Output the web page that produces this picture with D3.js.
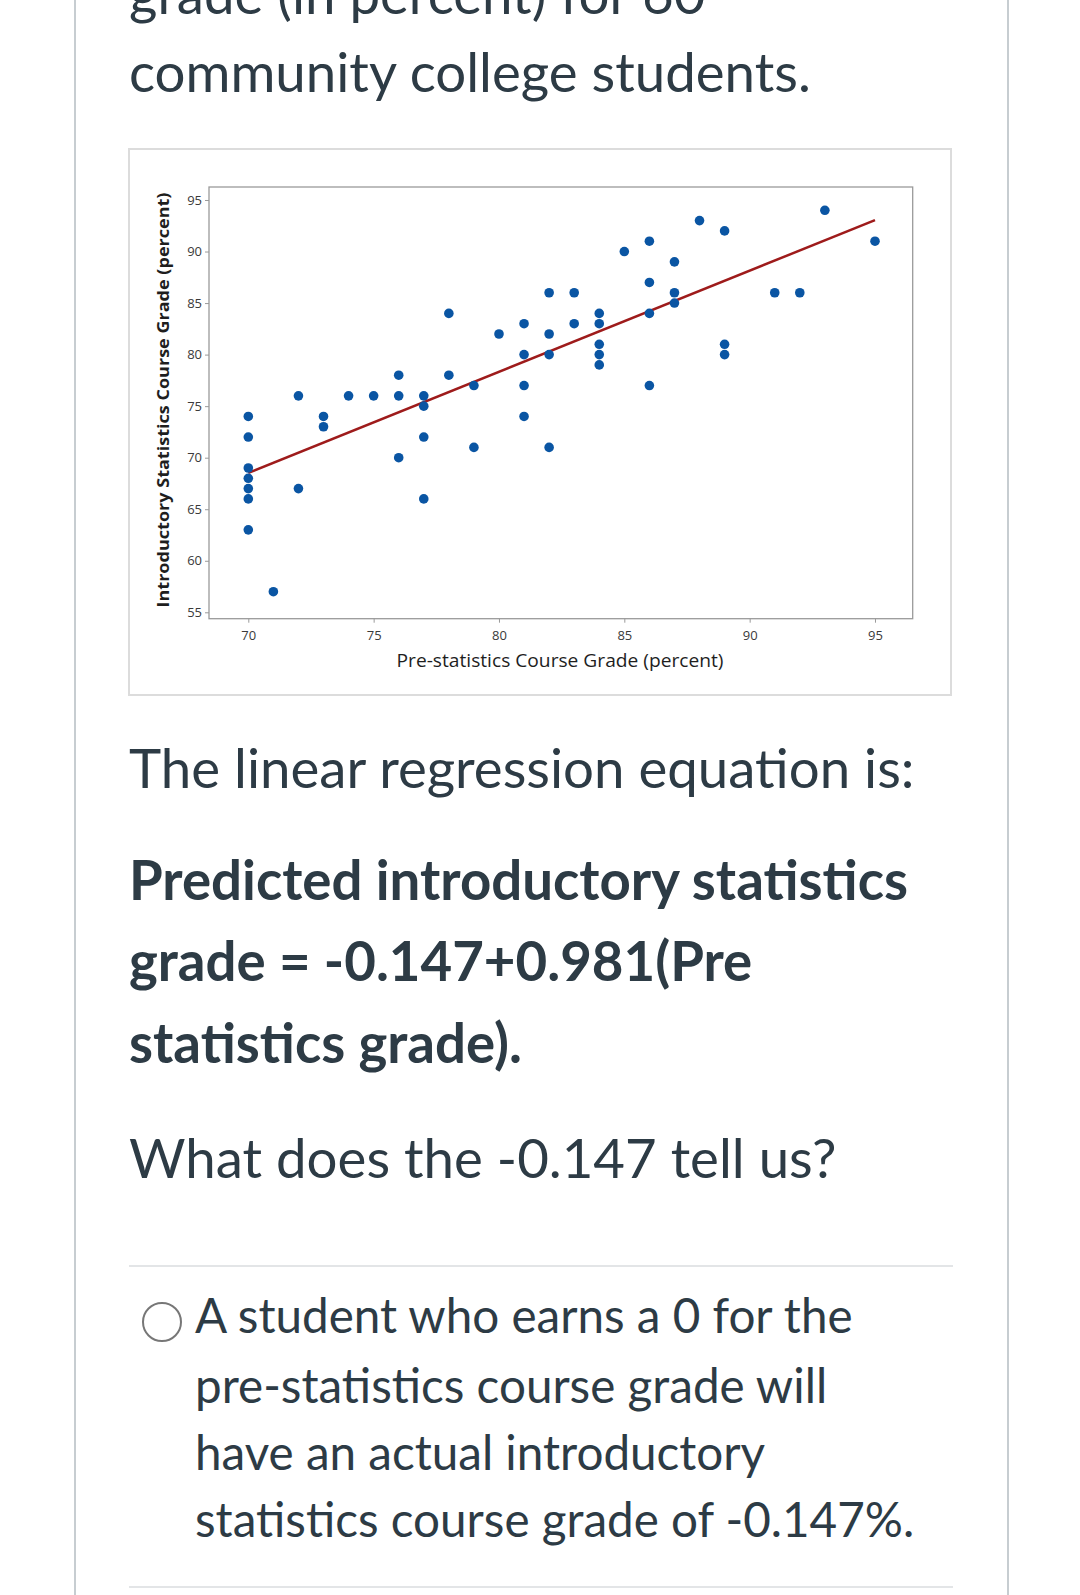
<!DOCTYPE html>
<html>
<head>
<meta charset="utf-8">
<script src="https://cdn.jsdelivr.net/npm/d3@7"></script>
<style>
  html, body { margin: 0; padding: 0; background: #ffffff; }
  svg { display: block; }
</style>
</head>
<body>
<div id="chart"></div>
<script>
// ---------------- DATA ----------------
const preStatsGrade = [70,70,70,70,70,70,70,71,72,72,73,73,74,75,76,76,76,77,77,77,77,78,78,79,79,80,81,81,81,81,82,82,82,82,83,83,84,84,84,84,84,85,86,86,86,86,87,87,87,88,89,89,89,91,92,93,95];
const introStatsGrade = [74,72,69,68,67,66,63,57,76,67,74,73,76,76,78,76,70,76,75,72,66,84,78,77,71,82,83,80,77,74,86,82,80,71,86,83,84,83,81,80,79,90,91,87,84,77,89,86,85,93,92,81,80,86,86,94,91];
const xTickValues = [70, 75, 80, 85, 90, 95];
const yTickValues = [55, 60, 65, 70, 75, 80, 85, 90, 95];
const fitIntercept = -0.147;
const fitSlope = 0.981;
const fitXRange = [70, 95];
const xAxisTitle = "Pre-statistics Course Grade (percent)";
const yAxisTitle = "Introductory Statistics Course Grade (percent)";

const introLines = ["grade (in percent) for 60", "community college students."];
const equationIntro = "The linear regression equation is:";
const equationLines = ["Predicted introductory statistics", "grade = -0.147+0.981(Pre", "statistics grade)."];
const questionText = "What does the -0.147 tell us?";
const optionLines = ["A student who earns a 0 for the", "pre-statistics course grade will", "have an actual introductory", "statistics course grade of -0.147%."];

// ---------------- LAYOUT ----------------
const W = 1080, H = 1595;
const textColor = "#2d3b45";
const svg = d3.select("#chart").append("svg").attr("width", W).attr("height", H);

svg.append("rect").attr("width", W).attr("height", H).attr("fill", "#fff");

// page side borders
svg.append("line").attr("x1", 75).attr("x2", 75).attr("y1", 0).attr("y2", H)
  .attr("stroke", "#c7cdd1").attr("stroke-width", 2);
svg.append("line").attr("x1", 1008).attr("x2", 1008).attr("y1", 0).attr("y2", H)
  .attr("stroke", "#c7cdd1").attr("stroke-width", 2);

// intro text (first line is scrolled partly out of view, as in the reference)
const bodyFont = "Lato, 'Open Sans', sans-serif";
const bodySize = 54.6;
const introY = [14, 92];
introLines.forEach((t, i) => {
  svg.append("text").attr("x", 129).attr("y", introY[i]).text(t)
    .attr("font-family", bodyFont).attr("font-size", bodySize).attr("fill", textColor);
});

// chart image box
svg.append("rect").attr("x", 129).attr("y", 149).attr("width", 822).attr("height", 546)
  .attr("fill", "#fff").attr("stroke", "#dcdcdc").attr("stroke-width", 2);

const plot = { left: 209, top: 187, right: 912.7, bottom: 618.7 };
const x = d3.scaleLinear().domain([68.432, 96.504]).range([plot.left, plot.right]);
const y = d3.scaleLinear().domain([54.38, 96.26]).range([plot.bottom, plot.top]);

// frame
svg.append("rect").attr("x", plot.left).attr("y", plot.top)
  .attr("width", plot.right - plot.left).attr("height", plot.bottom - plot.top)
  .attr("fill", "#fff").attr("stroke", "#9a9a9a").attr("stroke-width", 1.3);

const axisFont = "'Open Sans', 'Noto Sans', sans-serif";
const gx = svg.append("g").attr("transform", `translate(0,${plot.bottom})`)
  .call(d3.axisBottom(x).tickValues(xTickValues).tickSize(4).tickSizeOuter(0).tickPadding(8));
const gy = svg.append("g").attr("transform", `translate(${plot.left},0)`)
  .call(d3.axisLeft(y).tickValues(yTickValues).tickSize(4).tickSizeOuter(0).tickPadding(3));
[gx, gy].forEach(g => {
  g.select(".domain").remove();
  g.selectAll(".tick line").attr("stroke", "#9a9a9a");
  g.selectAll(".tick text").attr("font-family", axisFont).attr("font-size", 13).attr("fill", "#3a3a3a");
});

// axis titles
svg.append("text").attr("x", 560).attr("y", 667).attr("text-anchor", "middle")
  .attr("font-family", axisFont).attr("font-size", 17.5).attr("fill", "#1e1e1e")
  .attr("textLength", 327).attr("lengthAdjust", "spacingAndGlyphs")
  .text(xAxisTitle);
svg.append("text").attr("transform", "translate(169,400) rotate(-90)").attr("text-anchor", "middle")
  .attr("font-family", axisFont).attr("font-weight", 700).attr("font-size", 16.5).attr("fill", "#1e1e1e")
  .attr("textLength", 415).attr("lengthAdjust", "spacingAndGlyphs")
  .text(yAxisTitle);

// regression line
const fitData = fitXRange.map(v => ({ x: v, y: fitIntercept + fitSlope * v }));
svg.append("path").datum(fitData)
  .attr("d", d3.line().x(d => x(d.x)).y(d => y(d.y)))
  .attr("stroke", "#9e1b1b").attr("stroke-width", 2.5).attr("fill", "none");

// points
const points = preStatsGrade.map((v, i) => ({ x: v, y: introStatsGrade[i] }));
svg.append("g").selectAll("circle").data(points).join("circle")
  .attr("cx", d => x(d.x)).attr("cy", d => y(d.y)).attr("r", 4.8)
  .attr("fill", "#0a55a3");

// equation text
svg.append("text").attr("x", 129).attr("y", 788).text(equationIntro)
  .attr("font-family", bodyFont).attr("font-size", bodySize).attr("fill", textColor);
const eqY = [900, 981, 1063];
equationLines.forEach((t, i) => {
  svg.append("text").attr("x", 129).attr("y", eqY[i]).text(t)
    .attr("font-family", bodyFont).attr("font-weight", 700).attr("font-size", bodySize).attr("fill", textColor);
});
svg.append("text").attr("x", 129).attr("y", 1178).text(questionText)
  .attr("font-family", bodyFont).attr("font-size", bodySize).attr("fill", textColor);

// separators
[1266, 1587].forEach(yy => {
  svg.append("line").attr("x1", 129).attr("x2", 953).attr("y1", yy).attr("y2", yy)
    .attr("stroke", "#e3e5e7").attr("stroke-width", 2);
});

// radio + option
svg.append("circle").attr("cx", 162).attr("cy", 1322).attr("r", 19)
  .attr("fill", "#fff").attr("stroke", "#777").attr("stroke-width", 2);
const optY = [1333, 1403, 1470, 1537];
optionLines.forEach((t, i) => {
  svg.append("text").attr("x", 195).attr("y", optY[i]).text(t)
    .attr("font-family", bodyFont).attr("font-size", 47.6).attr("fill", textColor);
});
</script>
</body>
</html>
